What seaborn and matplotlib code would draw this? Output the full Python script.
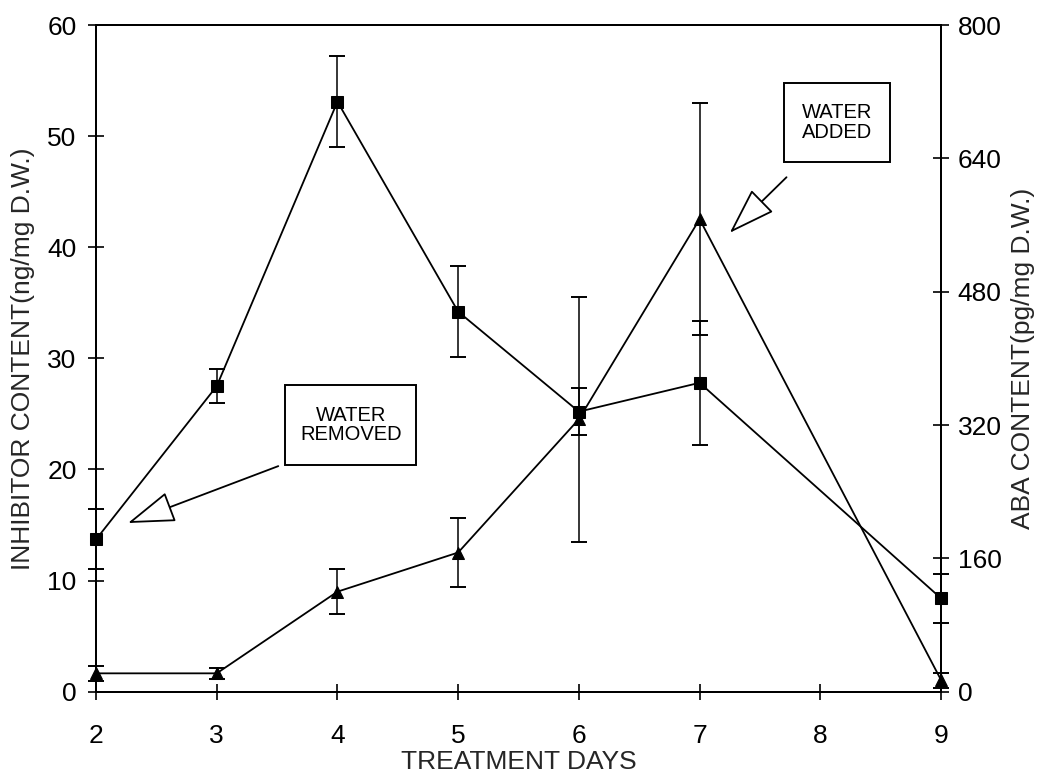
import matplotlib
matplotlib.use("Agg")
import matplotlib.pyplot as plt
from matplotlib.patches import Rectangle, FancyArrowPatch
import pandas as pd
import seaborn as sns

# Treatment days sampled
days = [2, 3, 4, 5, 6, 7, 9]

# Inhibitor content (ng/mg D.W.), left axis
inhibitor = [13.7, 27.5, 53.1, 34.2, 25.2, 27.8, 8.4]
inhibitor_err = [2.7, 1.5, 4.1, 4.1, 2.1, 5.6, 2.2]

# ABA content (pg/mg D.W.), right axis
aba = [22, 22, 120, 167, 327, 567, 14]
aba_err = [9, 7, 27, 41, 147, 139, 9]

left_ticks = [0, 10, 20, 30, 40, 50, 60]
right_ticks = [0, 160, 320, 480, 640, 800]
x_ticks = [2, 3, 4, 5, 6, 7, 8, 9]

sns.set_style("white")
plt.rcParams["font.family"] = ["Liberation Sans", "DejaVu Sans"]

df = pd.DataFrame({"day": days, "inhibitor": inhibitor, "aba": aba})

fig = plt.figure(figsize=(10.47, 7.79), dpi=100)
ax = fig.add_axes([0.0917, 0.1121, 0.8071, 0.8558])
ax2 = ax.twinx()

FS = 19
ink = "black"

# Inhibitor series (squares)
sns.lineplot(data=df, x="day", y="inhibitor", ax=ax, color=ink, lw=1.3,
             marker="s", markersize=8.8, markeredgecolor=ink, markerfacecolor=ink,
             zorder=3, clip_on=False)
ax.errorbar(days, inhibitor, yerr=inhibitor_err, fmt="none", ecolor=ink,
            elinewidth=1.1, capsize=6, capthick=1.4, zorder=2, clip_on=False)

# ABA series (triangles)
sns.lineplot(data=df, x="day", y="aba", ax=ax2, color=ink, lw=1.3,
             marker="^", markersize=9, markeredgecolor=ink, markerfacecolor=ink,
             zorder=3, clip_on=False)
ax2.errorbar(days, aba, yerr=aba_err, fmt="none", ecolor=ink,
             elinewidth=1.1, capsize=6, capthick=1.4, zorder=2, clip_on=False)

ax.set_xlim(2, 9)
ax.set_ylim(0, 60)
ax2.set_ylim(0, 800)
ax.set_xticks(x_ticks)
ax.set_yticks(left_ticks)
ax2.set_yticks(right_ticks)

for a in (ax, ax2):
    for s in a.spines.values():
        s.set_color(ink)
        s.set_linewidth(1.4)
    a.grid(False)

ax.tick_params(axis="both", direction="inout", length=12, width=1.2,
               labelsize=FS, colors=ink)
ax.tick_params(axis="y", left=True, right=False, pad=8)
ax.tick_params(axis="x", bottom=True, pad=17)
ax2.tick_params(axis="y", direction="inout", length=12, width=1.2,
                labelsize=FS, colors=ink, right=True, pad=6)

ax.set_xlabel("TREATMENT DAYS", fontsize=FS, labelpad=2)
ax.set_ylabel("INHIBITOR CONTENT(ng/mg D.W.)", fontsize=FS, labelpad=9)
ax2.set_ylabel("ABA CONTENT(pg/mg D.W.)", fontsize=FS, labelpad=7)

# Annotation boxes with hollow-headed arrows
def note(a, x0, y0, x1, y1, text, start, tip):
    a.add_patch(Rectangle((x0, y0), x1 - x0, y1 - y0, fill=True, fc="white",
                          ec=ink, lw=1.4, zorder=4))
    a.text((x0 + x1) / 2, (y0 + y1) / 2, text, ha="center", va="center",
           fontsize=14.5, linespacing=1.05, color=ink, zorder=5)
    arr = FancyArrowPatch(start, tip, arrowstyle="-|>,head_length=1.5,head_width=0.5",
                          mutation_scale=20, lw=1.3, ec=ink, fc="white",
                          shrinkA=0, shrinkB=0, zorder=5)
    a.add_patch(arr)

note(ax, 3.568, 20.4, 4.654, 27.6, "WATER\nREMOVED", (3.51, 20.3), (2.265, 15.18))
note(ax, 7.698, 47.7, 8.577, 54.8, "WATER\nADDED", (7.72, 46.3), (7.25, 41.3))

fig.savefig("out.png", dpi=100)
